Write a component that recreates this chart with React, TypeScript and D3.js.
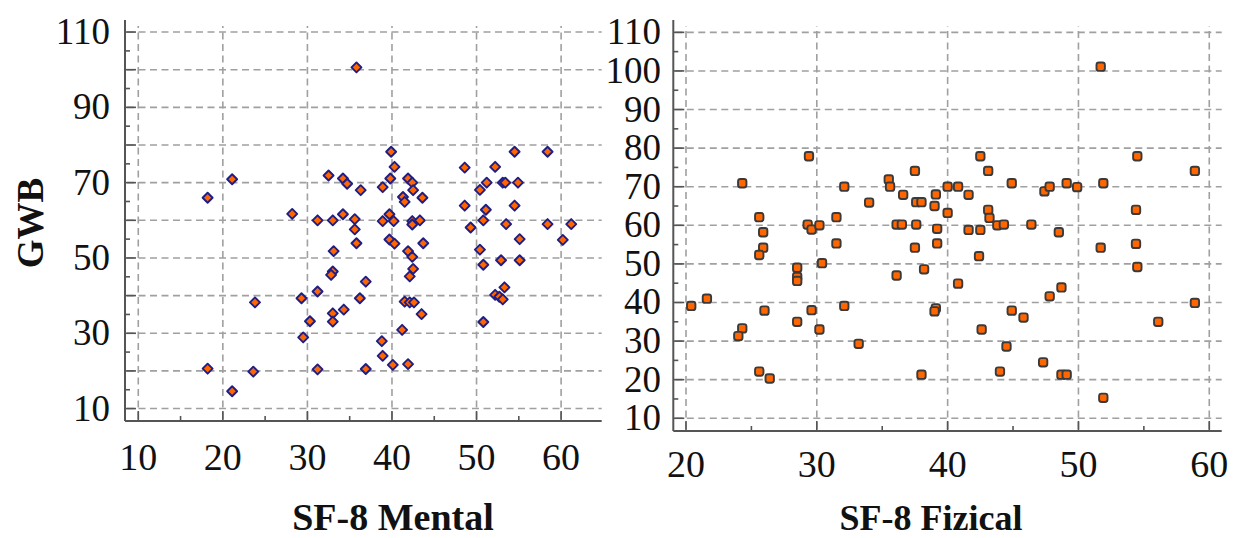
import React from 'react';
import * as d3 from 'd3';

// SF-8 Mental vs GWB
const mentalPoints: [number, number][] = [
  [35.8, 100.6], [39.9, 78.2], [40.3, 74.2], [39.8, 71.1], [38.9, 68.8], [21.1, 70.9], [18.2, 66.0],
  [32.5, 71.9], [34.2, 71.1], [34.7, 69.7], [36.3, 68.0], [28.2, 61.7], [31.2, 60.0], [33.0, 60.0],
  [34.2, 61.6], [35.6, 60.3], [35.6, 57.6], [35.8, 53.9], [39.7, 61.6], [38.9, 59.8], [40.2, 59.8],
  [39.7, 54.9], [40.3, 53.8], [33.1, 51.8], [33.0, 46.4], [32.8, 45.5], [36.9, 43.7], [23.8, 38.2],
  [29.3, 39.3], [31.2, 41.1], [36.2, 39.3], [33.0, 35.3], [34.3, 36.3], [33.0, 33.1], [30.3, 33.2],
  [29.5, 28.9], [38.8, 27.9], [38.9, 24.0], [40.1, 21.6], [18.2, 20.6], [23.6, 19.8], [31.2, 20.4],
  [36.9, 20.5], [21.1, 14.6],
  [41.9, 71.1], [42.4, 70.0], [42.5, 68.0], [43.6, 66.0], [41.3, 66.2], [41.5, 64.9], [42.4, 59.8],
  [42.4, 58.9], [43.3, 60.0], [43.7, 53.9], [41.9, 51.8], [42.4, 50.3], [42.5, 47.1], [42.1, 45.1],
  [41.5, 38.4], [42.1, 38.2], [42.6, 38.2], [43.5, 35.1], [41.2, 30.9], [41.9, 21.8], [48.6, 74.0],
  [54.5, 78.2], [58.4, 78.2], [52.2, 74.2], [50.4, 68.1], [51.2, 70.0], [53.1, 70.0], [53.4, 70.0],
  [54.9, 70.0], [48.6, 63.9], [54.5, 63.9], [51.1, 62.8], [50.8, 60.0], [49.3, 58.1], [53.5, 59.0],
  [58.4, 59.0], [61.2, 59.0], [55.1, 55.0], [60.2, 54.8], [50.4, 52.2], [50.8, 48.2], [52.9, 49.4],
  [55.1, 49.4], [52.2, 40.2], [52.7, 39.7], [53.3, 42.2], [53.1, 39.0], [50.8, 33.0],
];

// SF-8 Fizical vs GWB
const fizicalPoints: [number, number][] = [
  [29.4, 77.9], [24.3, 70.9], [32.1, 70.0], [35.5, 71.9], [35.6, 70.0], [37.5, 74.1], [36.6, 67.9],
  [34.0, 65.9], [37.6, 66.0], [38.0, 66.0], [39.1, 68.0], [39.0, 65.0], [40.0, 70.0], [40.0, 63.2],
  [25.6, 62.1], [25.9, 58.2], [25.9, 54.2], [25.6, 52.3], [29.3, 60.2], [29.6, 58.9], [30.2, 60.0],
  [31.5, 62.1], [31.5, 55.3], [30.4, 50.2], [28.5, 49.0], [28.5, 46.6], [28.5, 45.6], [36.1, 60.2],
  [36.5, 60.2], [37.6, 60.2], [39.2, 59.1], [37.5, 54.2], [39.2, 55.3], [38.2, 48.6], [36.1, 47.0],
  [20.4, 39.1], [21.6, 41.0], [26.0, 37.9], [29.6, 38.0], [32.1, 39.1], [24.3, 33.3], [24.0, 31.3],
  [28.5, 35.0], [30.2, 33.0], [33.2, 29.3], [39.1, 38.5], [39.0, 37.7], [25.6, 22.1], [26.4, 20.3],
  [38.0, 21.3],
  [51.7, 101.1], [42.5, 77.9], [54.5, 77.9], [43.1, 74.1], [58.9, 74.1], [40.8, 70.0], [41.6, 67.9],
  [44.9, 70.9], [47.4, 68.8], [47.8, 70.0], [49.1, 70.9], [49.9, 69.9], [51.9, 70.9], [43.1, 64.0],
  [43.2, 61.9], [41.6, 58.8], [42.5, 58.8], [43.8, 60.0], [44.3, 60.2], [46.4, 60.2], [48.5, 58.2],
  [54.4, 64.0], [42.4, 52.0], [51.7, 54.2], [54.4, 55.2], [54.5, 49.2], [40.8, 44.9], [48.7, 43.9],
  [47.8, 41.6], [44.9, 37.9], [45.8, 36.1], [58.9, 39.9], [56.1, 35.0], [42.6, 33.0], [44.5, 28.6],
  [47.3, 24.5], [44.0, 22.1], [48.7, 21.3], [49.1, 21.3], [51.9, 15.3],
];

const mentalXTicks = [10, 20, 30, 40, 50, 60];
const mentalYLabels = [10, 30, 50, 70, 90, 110];
const fizicalXTicks = [20, 30, 40, 50, 60];
const fizicalYLabels = [10, 20, 30, 40, 50, 60, 70, 80, 90, 100, 110];
const gridYValues = [10, 20, 30, 40, 50, 60, 70, 80, 90, 100, 110];

const FONT = "'Liberation Serif', 'Times New Roman', serif";
const GRID = '#a0a0a0';
const AXIS = '#555555';
const ORANGE = '#ff6600';

type PanelProps = {
  points: [number, number][];
  xDomain: [number, number];
  xRange: [number, number];
  yDomain: [number, number];
  yRange: [number, number];
  xTicks: number[];
  yLabels: number[];
  xLabelBaseline: number;
  yLabelRight: number;
  title: string;
  titleX: number;
  titleY: number;
  titleSize: number;
  markerStroke: string;
  marker: 'diamond' | 'square';
};

function Panel(p: PanelProps) {
  const x = d3.scaleLinear().domain(p.xDomain).range(p.xRange);
  const y = d3.scaleLinear().domain(p.yDomain).range(p.yRange);
  const [x0, x1] = p.xRange;
  const [yb, yt] = p.yRange;
  const gridTop = yt + 6;
  const xMinor = d3.range(Math.ceil(p.xDomain[0] / 5) * 5, p.xDomain[1], 5);
  const yMinor = d3.range(10, 111, 5);
  return (
    <g>
      {gridYValues.map((v) => (
        <line key={'gy' + v} x1={x0 + 2} x2={x1} y1={y(v)} y2={y(v)} stroke={GRID} strokeWidth={1.6} strokeDasharray="7,4.5" />
      ))}
      {p.xTicks.map((v) => (
        <line key={'gx' + v} x1={x(v)} x2={x(v)} y1={yb - 2} y2={gridTop} stroke={GRID} strokeWidth={1.6} strokeDasharray="7,4.5" />
      ))}
      <line x1={x0} x2={x0} y1={yb} y2={yt} stroke={AXIS} strokeWidth={2} />
      <line x1={x0} x2={x1} y1={yb} y2={yb} stroke={AXIS} strokeWidth={2} />
      {yMinor.map((v) => (
        <line key={'ty' + v} x1={x0} x2={x0 + (v % 10 === 0 ? 11 : 5)} y1={y(v)} y2={y(v)} stroke={AXIS} strokeWidth={1.6} />
      ))}
      {xMinor.map((v) => (
        <line key={'tx' + v} x1={x(v)} x2={x(v)} y1={yb} y2={yb - (v % 10 === 0 ? 10 : 5)} stroke={AXIS} strokeWidth={1.6} />
      ))}
      {p.xTicks.map((v) => (
        <text key={'lx' + v} x={x(v)} y={p.xLabelBaseline} textAnchor="middle" fontFamily={FONT} fontSize={38} fill="#111">
          {v}
        </text>
      ))}
      {p.yLabels.map((v) => (
        <text key={'ly' + v} x={p.yLabelRight} y={y(v) + 12} textAnchor="end" fontFamily={FONT} fontSize={37} fill="#111">
          {v}
        </text>
      ))}
      {p.points.map(([a, b], i) => {
        const cx = x(a);
        const cy = y(b);
        if (p.marker === 'diamond') {
          const h = 5;
          return (
            <path
              key={'p' + i}
              d={`M${cx},${cy - h}L${cx + h},${cy}L${cx},${cy + h}L${cx - h},${cy}Z`}
              fill={ORANGE}
              stroke={p.markerStroke}
              strokeWidth={1.9}
              strokeLinejoin="round"
            />
          );
        }
        return (
          <rect key={'p' + i} x={cx - 4.2} y={cy - 4.2} width={8.4} height={8.4} rx={2.4} fill={ORANGE} stroke={p.markerStroke} strokeWidth={1.9} />
        );
      })}
      <text x={p.titleX} y={p.titleY} textAnchor="middle" fontFamily={FONT} fontWeight="bold" fontSize={p.titleSize} fill="#111">
        {p.title}
      </text>
    </g>
  );
}

export default function App() {
  return (
    <svg width={1243} height={538} style={{ position: 'absolute', left: 0, top: 0, background: '#fff' }}>
      <rect width={1243} height={538} fill="#fff" />
      <Panel
        points={mentalPoints}
        xDomain={[8.43, 64.8]}
        xRange={[125, 601.7]}
        yDomain={[6.7, 113.2]}
        yRange={[421, 20]}
        xTicks={mentalXTicks}
        yLabels={mentalYLabels}
        xLabelBaseline={470}
        yLabelRight={110}
        title="SF-8 Mental"
        titleX={393}
        titleY={530}
        titleSize={38}
        markerStroke="#1e1e86"
        marker="diamond"
      />
      <Panel
        points={fizicalPoints}
        xDomain={[19.03, 60.95]}
        xRange={[673.3, 1221.7]}
        yDomain={[6.7, 113.2]}
        yRange={[431, 20]}
        xTicks={fizicalXTicks}
        yLabels={fizicalYLabels}
        xLabelBaseline={477}
        yLabelRight={661}
        title="SF-8 Fizical"
        titleX={931}
        titleY={530}
        titleSize={36}
        markerStroke="#3a3a3a"
        marker="square"
      />
      <text transform="translate(43,223) rotate(-90)" textAnchor="middle" fontFamily={FONT} fontWeight="bold" fontSize={37} fill="#111">
        GWB
      </text>
    </svg>
  );
}
